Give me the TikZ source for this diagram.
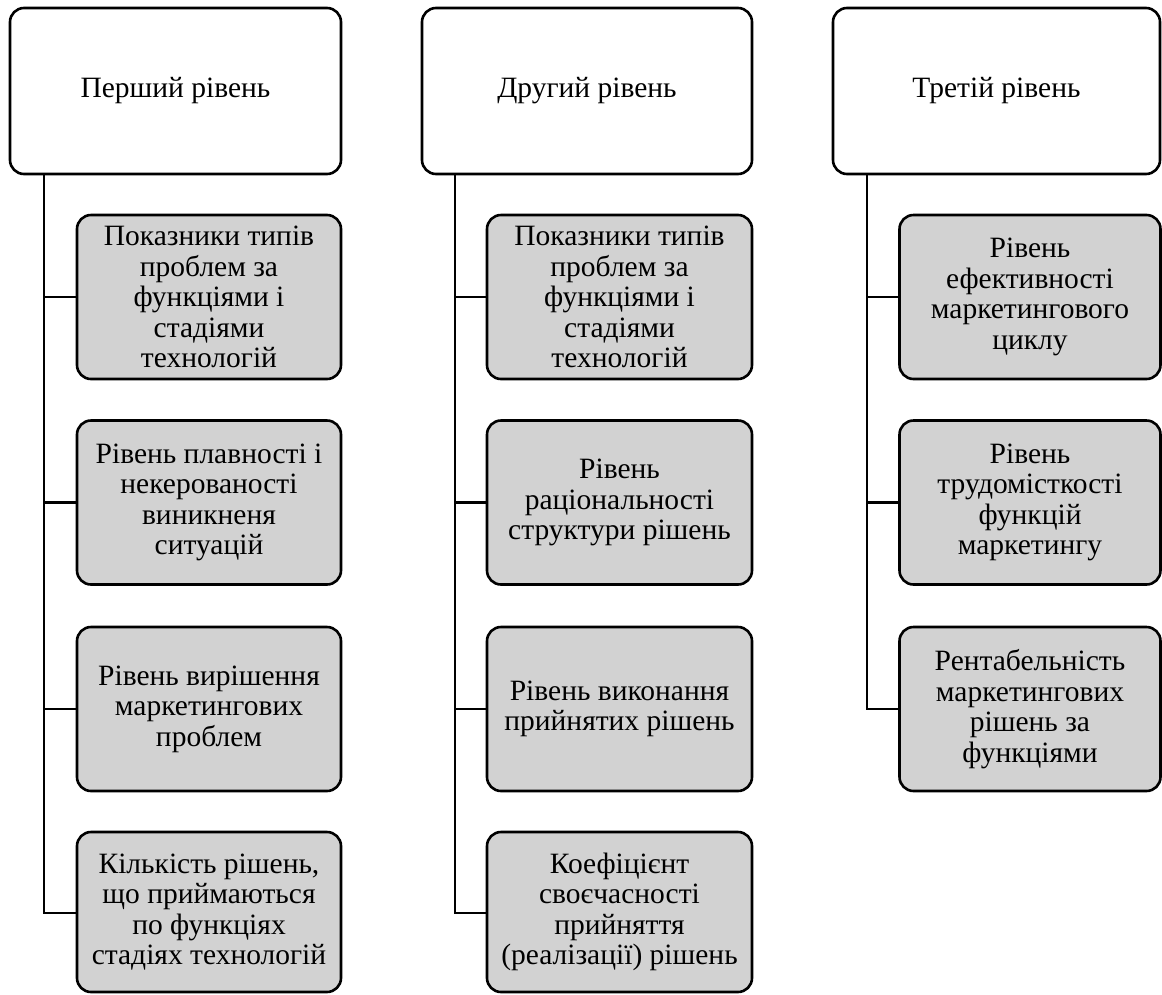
\documentclass[tikz,border=0pt]{standalone}
\usepackage{fontspec}
\setmainfont{Liberation Serif}
\definecolor{boxgray}{RGB}{210,210,210}
\begin{document}
\begin{tikzpicture}[x=1pt,y=-1pt,
  every node/.style={font=\fontsize{29.5}{30.5}\selectfont, align=center, inner sep=0pt},
  levelbox/.style={draw=black, line width=2.6pt, rounded corners=14pt, fill=white},
  itembox/.style={draw=black, line width=2.6pt, rounded corners=14pt, fill=boxgray},
  link/.style={draw=black, line width=2.6pt, line join=miter}]
\useasboundingbox (0,0) rectangle (1162,994);

% level headers
\node[levelbox, minimum width=331pt, minimum height=166pt] (L1) at (175.5,91) {Перший рівень};
\node[levelbox, minimum width=330pt, minimum height=166pt] (L2) at (587,91) {Другий рівень};
\node[levelbox, minimum width=327pt, minimum height=166pt] (L3) at (996.5,91) {Третій рівень};

% first level indicators
\begin{scope}[every node/.append style={itembox, minimum width=264pt, minimum height=164pt}]
\node (A1) at (209,297) {Показники типів\\проблем за\\функціями і\\стадіями\\технологій};
\node (A2) at (209,502.5) {Рівень плавності і\\некерованості\\виникненя\\ситуацій};
\node (A3) at (209,709) {Рівень вирішення\\маркетингових\\проблем};
\node[minimum height=160pt] (A4) at (209,912) {Кількість рішень,\\що приймаються\\по функціях\\стадіях технологій};
\end{scope}

% second level indicators
\begin{scope}[every node/.append style={itembox, minimum width=265pt, minimum height=164pt}]
\node (B1) at (619.5,297) {Показники типів\\проблем за\\функціями і\\стадіями\\технологій};
\node (B2) at (619.5,502.5) {Рівень\\раціональності\\структури рішень};
\node (B3) at (619.5,709) {Рівень виконання\\прийнятих рішень};
\node[minimum height=160pt] (B4) at (619.5,912) {Коефіцієнт\\своєчасності\\прийняття\\(реалізації) рішень};
\end{scope}

% third level indicators
\begin{scope}[every node/.append style={itembox, minimum width=261pt, minimum height=164pt}]
\node (C1) at (1030,297) {Рівень\\ефективності\\маркетингового\\циклу};
\node (C2) at (1030,502.5) {Рівень\\трудомісткості\\функцій\\маркетингу};
\node (C3) at (1030,709) {Рентабельність\\маркетингових\\рішень за\\функціями};
\end{scope}

% trunk lines from each header
\coordinate (T1) at (44,913);
\coordinate (T2) at (455,913);
\coordinate (T3) at (867,709);
\draw[link] (L1.south -| T1) -- (T1) -- (A4.west |- T1);
\draw[link] (L2.south -| T2) -- (T2) -- (B4.west |- T2);
\draw[link] (L3.south -| T3) -- (T3) -- (C3.west);

% branches
\foreach \n in {A1,A2,A3} \draw[link] (\n.west -| T1) -- (\n.west);
\foreach \n in {B1,B2,B3} \draw[link] (\n.west -| T2) -- (\n.west);
\foreach \n in {C1,C2} \draw[link] (\n.west -| T3) -- (\n.west);
\end{tikzpicture}
\end{document}
